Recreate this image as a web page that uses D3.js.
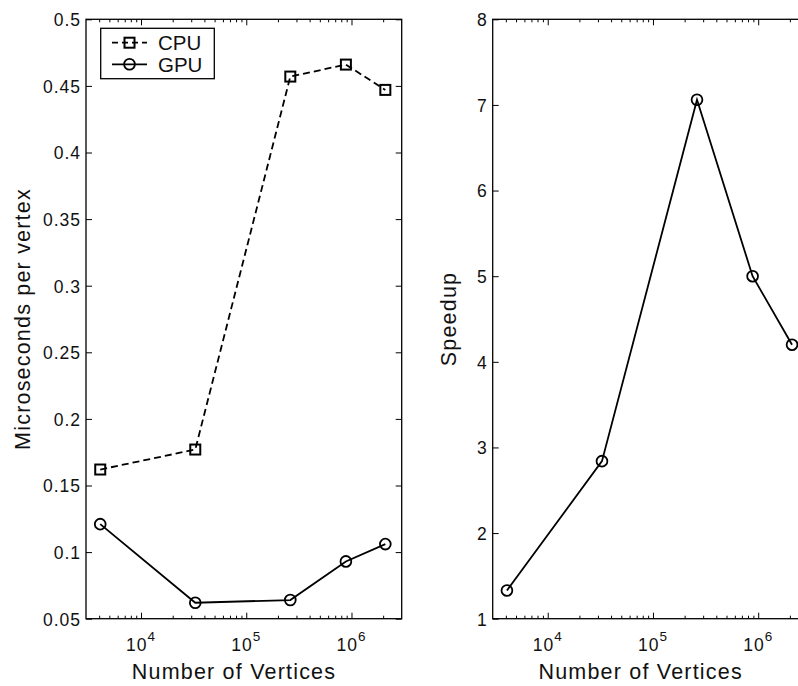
<!DOCTYPE html>
<html>
<head>
<meta charset="utf-8">
<script src="https://cdn.jsdelivr.net/npm/d3@7"></script>
<style>
  body { margin: 0; background: #fff; }
  svg { display: block; font-family: "Liberation Sans", Arial, sans-serif; }
</style>
</head>
<body>
<svg id="chart" width="798" height="686"></svg>
<script>
// data
const vertices = [4096, 32768, 262144, 884736, 2097152];
const cpuTime = [0.162, 0.177, 0.457, 0.466, 0.447];
const gpuTime = [0.121, 0.062, 0.064, 0.093, 0.106];
const speedup = [1.33, 2.84, 7.06, 5.0, 4.2];

const xMajor = [1e4, 1e5, 1e6];
const xMinor = [];
[1e3, 1e4, 1e5, 1e6].forEach(function (p) {
  for (let k = 2; k <= 9; k++) {
    const v = k * p;
    if (v > 3000 && v < 3e6 && xMajor.indexOf(v) < 0) xMinor.push(v);
  }
});
const yTicksLeft = [0.05, 0.1, 0.15, 0.2, 0.25, 0.3, 0.35, 0.4, 0.45, 0.5];
const yTicksRight = [1, 2, 3, 4, 5, 6, 7, 8];

const svg = d3.select("#chart");
const ink = "#000";

function drawPanel(box, yDomain, yTicks, yFmt, yLabel, series) {
  const g = svg.append("g");
  const x = d3.scaleLog().domain([3000, 3e6]).range([box.x0, box.x1]);
  const y = d3.scaleLinear().domain(yDomain).range([box.y1, box.y0]);

  // inward ticks, matlab style
  const tickStyle = function (sel) {
    sel.select(".domain").remove();
    sel.selectAll(".tick line").attr("stroke", ink).attr("stroke-width", 1);
  };

  g.append("g").attr("transform", "translate(0," + box.y1 + ")")
    .call(d3.axisBottom(x).tickValues(xMajor).tickSize(-6).tickFormat(""))
    .call(tickStyle);
  g.append("g").attr("transform", "translate(0," + box.y1 + ")")
    .call(d3.axisBottom(x).tickValues(xMinor).tickSize(-3).tickFormat(""))
    .call(tickStyle);
  g.append("g").attr("transform", "translate(0," + box.y0 + ")")
    .call(d3.axisTop(x).tickValues(xMajor).tickSize(-6).tickFormat(""))
    .call(tickStyle);
  g.append("g").attr("transform", "translate(0," + box.y0 + ")")
    .call(d3.axisTop(x).tickValues(xMinor).tickSize(-3).tickFormat(""))
    .call(tickStyle);

  const left = g.append("g").attr("transform", "translate(" + box.x0 + ",0)")
    .call(d3.axisLeft(y).tickValues(yTicks).tickSize(-6).tickPadding(5).tickFormat(yFmt))
    .call(tickStyle);
  left.selectAll(".tick text")
    .attr("fill", "#111")
    .attr("dy", "0.36em")
    .style("font-family", "Liberation Sans, Arial, sans-serif")
    .style("font-size", "17.5px")
    .style("letter-spacing", "1px");

  g.append("g").attr("transform", "translate(" + box.x1 + ",0)")
    .call(d3.axisRight(y).tickValues(yTicks).tickSize(-6).tickFormat(""))
    .call(tickStyle);

  // frame
  g.append("rect")
    .attr("x", box.x0).attr("y", box.y0)
    .attr("width", box.x1 - box.x0).attr("height", box.y1 - box.y0)
    .attr("fill", "none").attr("stroke", ink).attr("stroke-width", 1.3);

  // 10^n labels
  xMajor.forEach(function (v) {
    const t = g.append("text")
      .attr("x", x(v)).attr("y", box.y1 + 32)
      .attr("text-anchor", "middle")
      .attr("fill", "#111")
      .style("font-size", "17.5px")
      .style("letter-spacing", "1px");
    t.append("tspan").text("10");
    t.append("tspan").attr("dy", -10).style("font-size", "13.5px")
      .text(Math.round(Math.log10(v)));
  });

  g.append("text")
    .attr("x", box.x0 + 148).attr("y", 679)
    .attr("text-anchor", "middle")
    .attr("fill", "#111")
    .style("font-size", "21.5px")
    .style("letter-spacing", "1.2px")
    .text("Number of Vertices");

  g.append("text")
    .attr("transform", "translate(" + (box.x0 - box.yLabelOff) + "," + ((box.y0 + box.y1) / 2) + ") rotate(-90)")
    .attr("text-anchor", "middle")
    .attr("fill", "#111")
    .style("font-size", "21.5px")
    .style("letter-spacing", "1.2px")
    .text(yLabel);

  const line = d3.line()
    .x(function (d, i) { return x(vertices[i]); })
    .y(function (d) { return y(d); });

  series.forEach(function (s) {
    g.append("path")
      .datum(s.values)
      .attr("fill", "none")
      .attr("stroke", ink)
      .attr("stroke-width", 1.8)
      .attr("stroke-dasharray", s.dash || null)
      .attr("d", line);
    drawMarkers(g, s.marker, s.values.map(function (d, i) { return [x(vertices[i]), y(d)]; }));
  });
}

function drawMarkers(g, kind, pts) {
  if (kind === "square") {
    g.selectAll(null).data(pts).enter().append("rect")
      .attr("x", function (d) { return d[0] - 5; })
      .attr("y", function (d) { return d[1] - 5; })
      .attr("width", 10).attr("height", 10)
      .attr("fill", "none").attr("stroke", ink).attr("stroke-width", 2);
  } else {
    g.selectAll(null).data(pts).enter().append("circle")
      .attr("cx", function (d) { return d[0]; })
      .attr("cy", function (d) { return d[1]; })
      .attr("r", 5.4)
      .attr("fill", "none").attr("stroke", ink).attr("stroke-width", 1.8);
  }
}

drawPanel({ x0: 86, x1: 401.7, y0: 19.3, y1: 618.7, yLabelOff: 56 },
  [0.05, 0.5], yTicksLeft, d3.format(".2~f"), "Microseconds per vertex",
  [{ values: cpuTime, marker: "square", dash: "7,4" },
   { values: gpuTime, marker: "circle" }]);

drawPanel({ x0: 492.7, x1: 808.4, y0: 19.3, y1: 618.7, yLabelOff: 37 },
  [1, 8], yTicksRight, d3.format("d"), "Speedup",
  [{ values: speedup, marker: "circle" }]);

// legend
const legend = svg.append("g").attr("class", "legend");
legend.append("rect")
  .attr("x", 100.7).attr("y", 28.3)
  .attr("width", 113.6).attr("height", 50.4)
  .attr("fill", "#fff").attr("stroke", ink).attr("stroke-width", 1.3);

const legendItems = [
  { name: "CPU", marker: "square", dash: "6,4", y: 42.7 },
  { name: "GPU", marker: "circle", dash: null, y: 64.3 }
];
legendItems.forEach(function (it) {
  legend.append("line")
    .attr("x1", 112).attr("x2", 147)
    .attr("y1", it.y).attr("y2", it.y)
    .attr("stroke", ink).attr("stroke-width", 1.8)
    .attr("stroke-dasharray", it.dash);
  drawMarkers(legend, it.marker, [[129.5, it.y]]);
  legend.append("text")
    .attr("x", 158).attr("y", it.y + 7.3)
    .attr("fill", "#111")
    .style("font-size", "20.5px")
    .text(it.name);
});
</script>
</body>
</html>
